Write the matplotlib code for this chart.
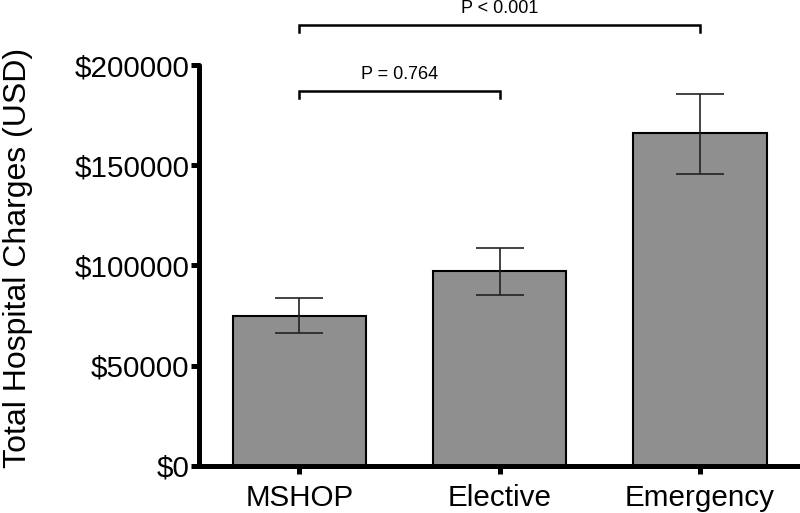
import numpy as np
import matplotlib
matplotlib.use('Agg')
import matplotlib.pyplot as plt

plt.rcParams['font.family'] = ['Liberation Sans', 'DejaVu Sans']

# group means and error bar ends
groups = ['MSHOP', 'Elective', 'Emergency']
means = [75000, 97000, 166000]
err_low = [66300, 85500, 145500]
err_high = [84000, 108500, 185500]
yticks = [0, 50000, 100000, 150000, 200000]

# significance brackets: (left group, right group, label, height)
comparisons = [(0, 1, 'P = 0.764', 187000), (0, 2, 'P < 0.001', 220000)]

fig = plt.figure(figsize=(8, 5.13), dpi=100)
ax = fig.add_axes([0.249, 0.092, 0.751, 0.781])

x = np.arange(len(groups))
yerr = [np.array(means) - np.array(err_low), np.array(err_high) - np.array(means)]
ax.bar(x, means, width=0.667, color='#8f8f8f', edgecolor='black', linewidth=1.5, zorder=2)
ax.errorbar(x, means, yerr=yerr, fmt='none', ecolor='#222222', elinewidth=1.2,
            capsize=17, capthick=1.2, zorder=3)

ax.set_xlim(-0.5, 2.5)
ax.set_ylim(0, 200000)
ax.set_xticks(x)
ax.set_xticklabels(groups, fontsize=21.3)
ax.set_yticks(yticks)
ax.set_yticklabels(['$%d' % v for v in yticks], fontsize=21.3)
ax.set_ylabel('Total Hospital Charges (USD)', fontsize=23)
ax.yaxis.set_label_coords(-0.276, 0.52)

for side in ['top', 'right']:
    ax.spines[side].set_visible(False)
for side in ['left', 'bottom']:
    ax.spines[side].set_linewidth(3.6)
    ax.spines[side].set_capstyle('round')
ax.tick_params(axis='both', width=3.6, length=6)
ax.tick_params(axis='y', pad=1)
ax.tick_params(axis='x', pad=7)

for a, b, label, yb in comparisons:
    tick = 3500
    ax.plot([a, a, b, b], [yb - tick, yb, yb, yb - tick], color='black', lw=1.8,
            clip_on=False, solid_joinstyle='miter')
    ax.text((a + b) / 2, yb + 4000, label, ha='center', va='bottom', fontsize=13)

fig.savefig('out.png', dpi=100)
